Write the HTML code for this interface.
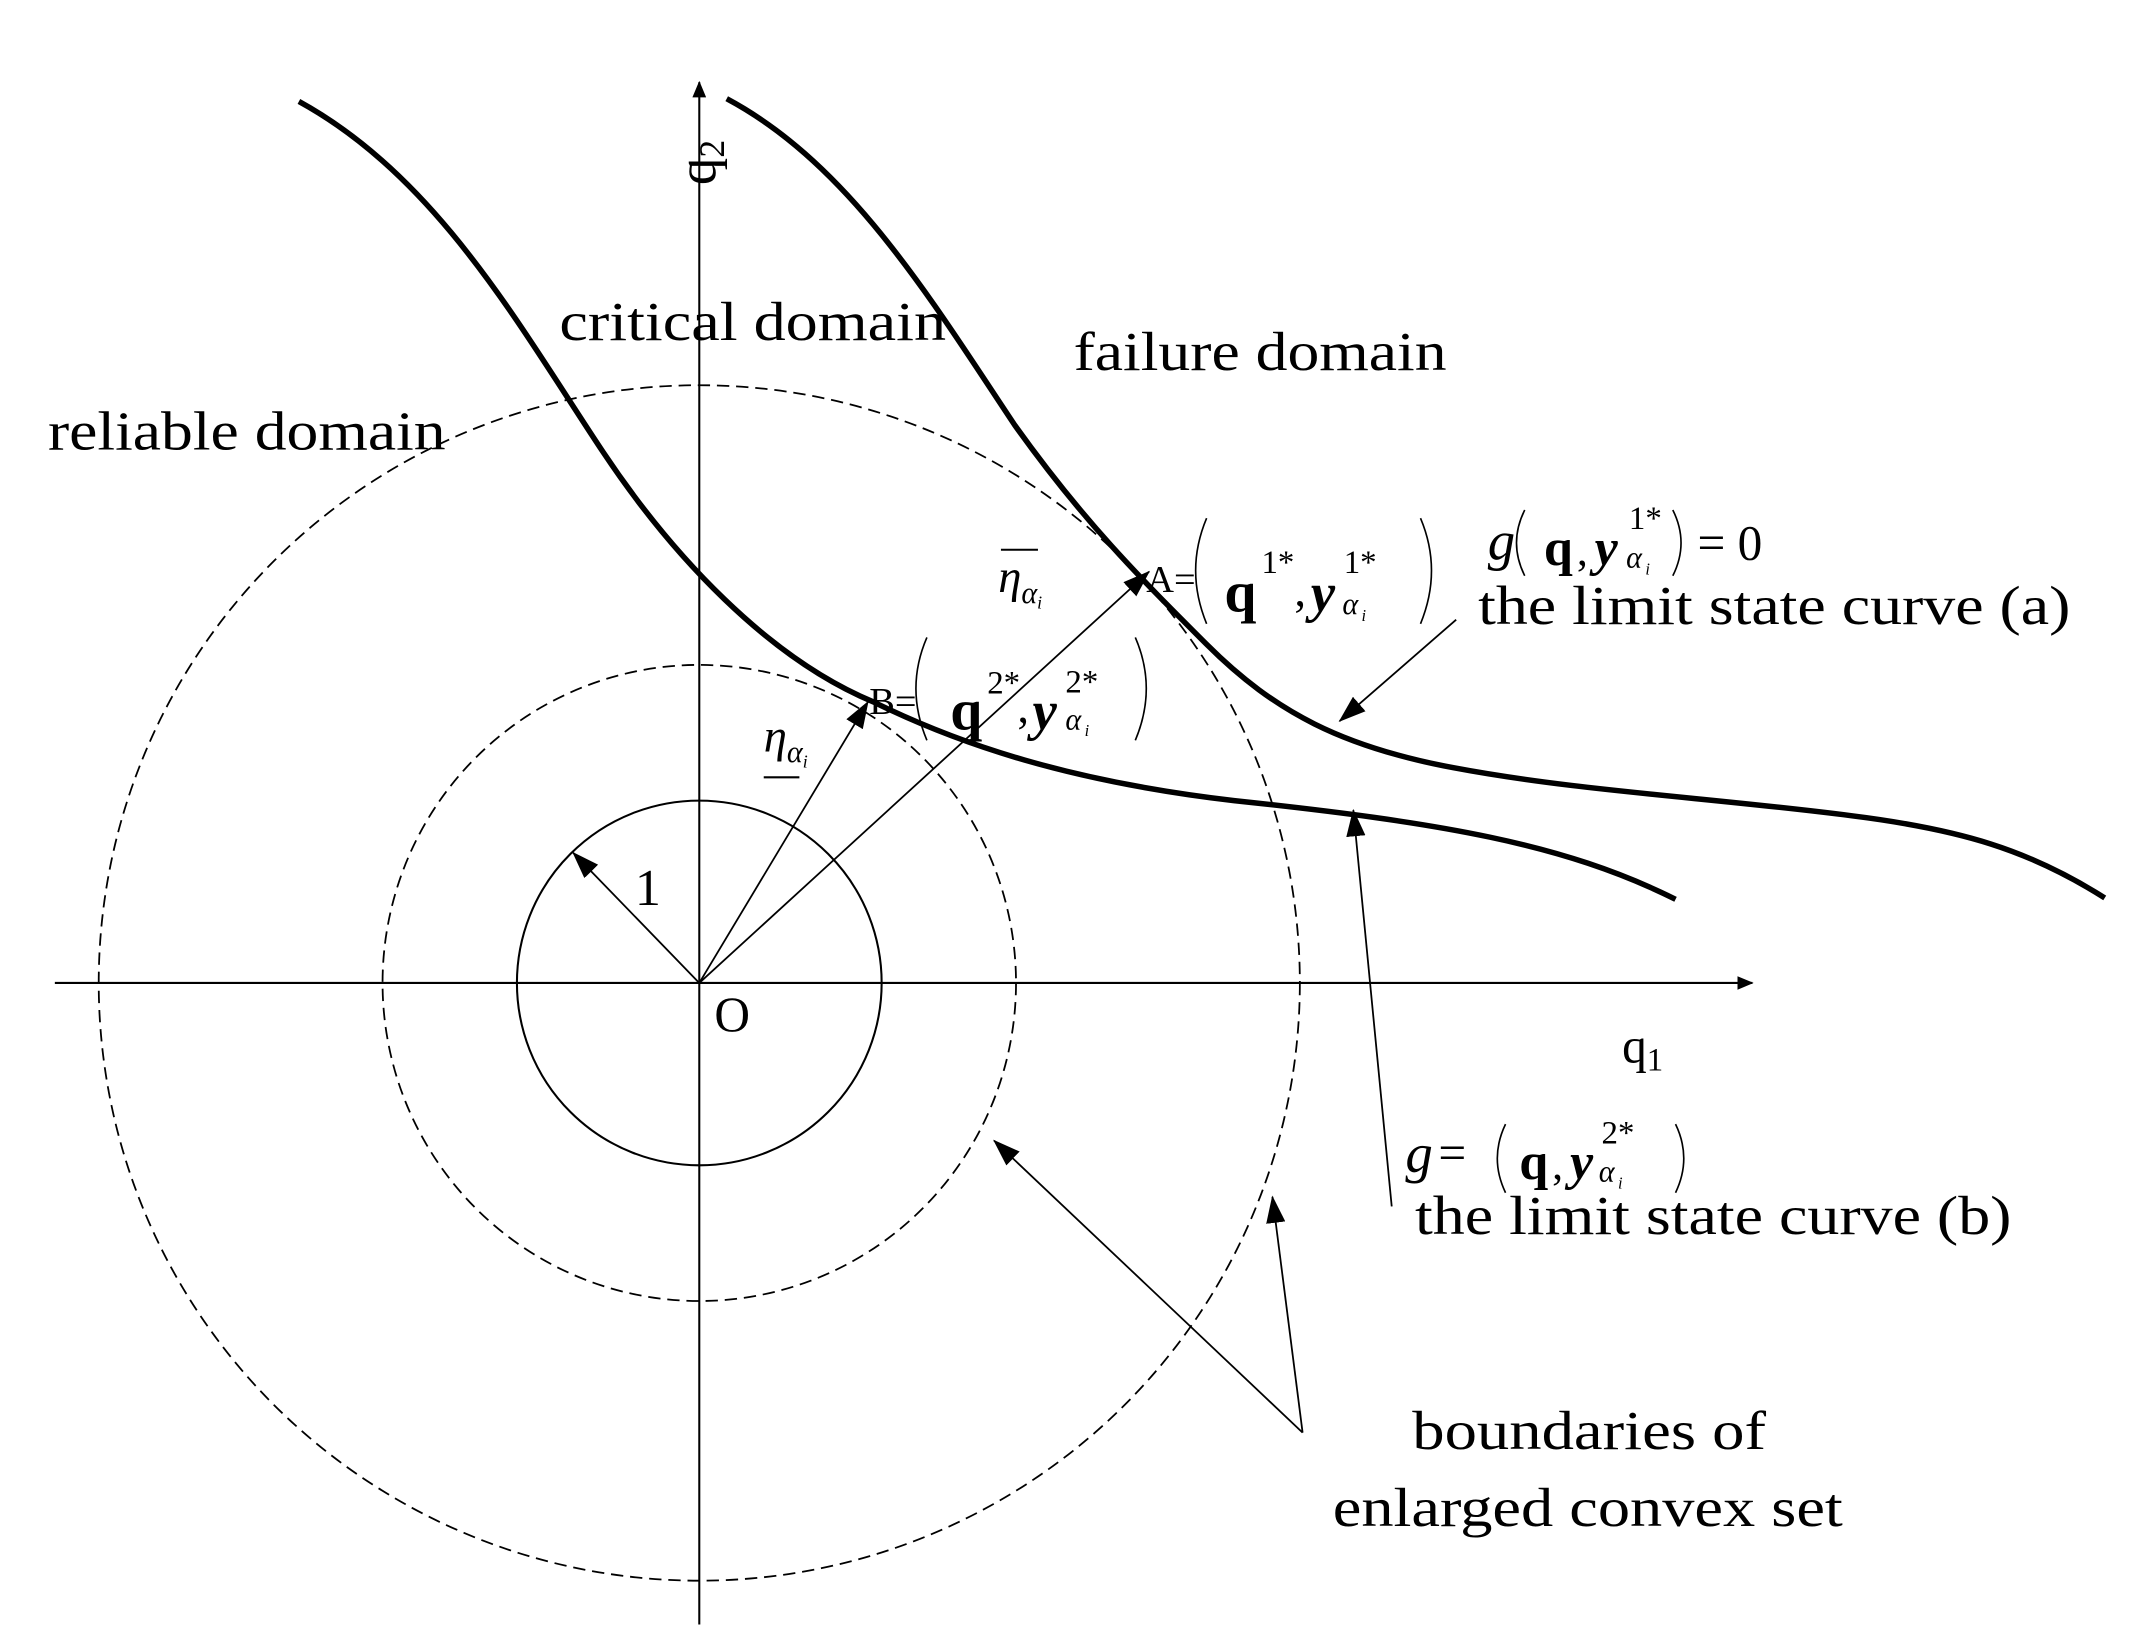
<!DOCTYPE html>
<html><head><meta charset="utf-8"><style>
html,body{margin:0;padding:0;background:#fff;}
svg{display:block;}
text{font-family:"Liberation Serif",serif;fill:#000;}
</style></head><body>
<svg width="2139" height="1641" viewBox="0 0 1560 1197" preserveAspectRatio="none" xmlns="http://www.w3.org/2000/svg">
<defs>
<marker id="ar" markerWidth="12" markerHeight="10" refX="11" refY="5" orient="auto" markerUnits="userSpaceOnUse">
<path d="M0,0 L12,5 L0,10 z" fill="#000"/></marker>
<marker id="ar2" markerWidth="20" markerHeight="14" refX="19" refY="7" orient="auto" markerUnits="userSpaceOnUse">
<path d="M0,0 L20,7 L0,14 z" fill="#000"/></marker>
</defs>
<rect width="1560" height="1197" fill="#fff"/>
<line x1="40" y1="717" x2="1278" y2="717" stroke="#000" stroke-width="1.5" marker-end="url(#ar)"/>
<line x1="510" y1="1185" x2="510" y2="60" stroke="#000" stroke-width="1.5" marker-end="url(#ar)"/>
<ellipse cx="510" cy="717" rx="133" ry="133" fill="none" stroke="#000" stroke-width="1.5"/>
<ellipse cx="510" cy="717" rx="231" ry="232" fill="none" stroke="#000" stroke-width="1.3" stroke-dasharray="9,5"/>
<ellipse cx="510" cy="717" rx="438" ry="436" fill="none" stroke="#000" stroke-width="1.3" stroke-dasharray="9,5"/>
<path d="M218,74 C320,130 380,240 440,330 C490,405 560,480 637,512 C700,543 780,570 900,584 C1050,600 1140,615 1222,656" fill="none" stroke="#000" stroke-width="4"/>
<path d="M530,72 C620,120 680,220 740,310 C790,380 830,420 880,470 C930,520 980,545 1060,560 C1150,577 1250,582 1350,595 C1430,605 1480,620 1535,655" fill="none" stroke="#000" stroke-width="4"/>
<line x1="510" y1="717" x2="418" y2="622" stroke="#000" stroke-width="1.3" marker-end="url(#ar2)"/>
<line x1="510" y1="717" x2="633" y2="512" stroke="#000" stroke-width="1.3" marker-end="url(#ar2)"/>
<line x1="510" y1="717" x2="838" y2="417" stroke="#000" stroke-width="1.3" marker-end="url(#ar2)"/>
<line x1="1062" y1="452" x2="977" y2="526" stroke="#000" stroke-width="1.3" marker-end="url(#ar2)"/>
<line x1="1015" y1="880" x2="987" y2="591" stroke="#000" stroke-width="1.3" marker-end="url(#ar2)"/>
<line x1="950" y1="1045" x2="725" y2="832" stroke="#000" stroke-width="1.3" marker-end="url(#ar2)"/>
<line x1="950" y1="1045" x2="928" y2="873" stroke="#000" stroke-width="1.3" marker-end="url(#ar2)"/>
<g font-size="40">
<text x="408" y="248" textLength="282" lengthAdjust="spacingAndGlyphs">critical domain</text>
<text x="783" y="270" textLength="272" lengthAdjust="spacingAndGlyphs">failure domain</text>
<text x="35" y="328" textLength="290" lengthAdjust="spacingAndGlyphs">reliable domain</text>
<text x="1078" y="455" textLength="432" lengthAdjust="spacingAndGlyphs">the limit state curve (a)</text>
<text x="1032" y="900" textLength="435" lengthAdjust="spacingAndGlyphs">the limit state curve (b)</text>
<text x="1030" y="1057" textLength="258" lengthAdjust="spacingAndGlyphs">boundaries of</text>
<text x="972" y="1113" textLength="372" lengthAdjust="spacingAndGlyphs">enlarged convex set</text>
</g>
<text transform="translate(522,135) rotate(-90)" font-size="40">q<tspan font-size="26" dy="6">2</tspan></text>
<text x="521" y="752" font-size="36">O</text>
<text x="1183" y="775" font-size="36">q<tspan font-size="24" dy="6">1</tspan></text>
<text x="463" y="660" font-size="38">1</text>
<text x="557" y="548" font-size="34" font-style="italic">η<tspan font-size="22" dy="8">α</tspan><tspan font-size="13" dy="4">i</tspan></text>
<line x1="557" y1="567" x2="583" y2="567" stroke="#000" stroke-width="1.5"/>
<text x="728" y="432" font-size="34" font-style="italic">η<tspan font-size="22" dy="8">α</tspan><tspan font-size="13" dy="4">i</tspan></text>
<line x1="730" y1="401" x2="757" y2="401" stroke="#000" stroke-width="1.5"/>
<g fill="none" stroke="#000" stroke-width="1.2">
<path d="M880,378 Q864,416 880,455"/><path d="M1036,378 Q1052,416 1036,455"/>
<path d="M676,465 Q660,502 676,540"/><path d="M828,465 Q844,502 828,540"/>
<path d="M1112,372 Q1100,396 1112,420"/><path d="M1220,372 Q1232,396 1220,420"/>
<path d="M1098,820 Q1086,845 1098,870"/><path d="M1222,820 Q1234,845 1222,870"/>
</g>
<text x="836" y="432" font-size="28">A=</text>
<text x="893" y="446" font-size="42" font-weight="bold">q</text>
<text x="920" y="418" font-size="24">1*</text>
<text x="944" y="442" font-size="34">,</text>
<text x="956" y="446" font-size="40" font-style="italic" font-weight="bold">y</text>
<text x="980" y="418" font-size="24">1*</text>
<text x="979" y="448" font-size="22" font-style="italic">α</text>
<text x="993" y="453" font-size="12" font-style="italic">i</text>
<text x="634" y="521" font-size="28">B=</text>
<text x="693" y="532" font-size="42" font-weight="bold">q</text>
<text x="720" y="506" font-size="24">2*</text>
<text x="742" y="527" font-size="34">,</text>
<text x="753" y="532" font-size="40" font-style="italic" font-weight="bold">y</text>
<text x="777" y="505" font-size="24">2*</text>
<text x="777" y="532" font-size="22" font-style="italic">α</text>
<text x="791" y="537" font-size="12" font-style="italic">i</text>
<text x="1085" y="408" font-size="40" font-style="italic">g</text>
<text x="1126" y="412" font-size="38" font-weight="bold">q</text>
<text x="1150" y="412" font-size="32">,</text>
<text x="1163" y="412" font-size="38" font-style="italic" font-weight="bold">y</text>
<text x="1188" y="386" font-size="24">1*</text>
<text x="1186" y="414" font-size="22" font-style="italic">α</text>
<text x="1200" y="419" font-size="12" font-style="italic">i</text>
<text x="1238" y="408" font-size="36">= 0</text>
<text x="1025" y="855" font-size="40" font-style="italic">g</text>
<text x="1049" y="853" font-size="36">=</text>
<text x="1108" y="860" font-size="38" font-weight="bold">q</text>
<text x="1132" y="860" font-size="32">,</text>
<text x="1145" y="860" font-size="38" font-style="italic" font-weight="bold">y</text>
<text x="1168" y="834" font-size="24">2*</text>
<text x="1166" y="862" font-size="22" font-style="italic">α</text>
<text x="1180" y="867" font-size="12" font-style="italic">i</text>
</svg>
</body></html>
